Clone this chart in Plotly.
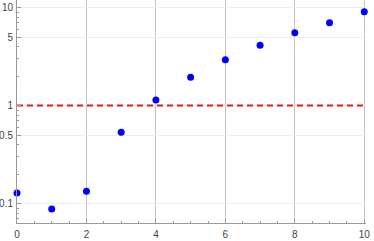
import plotly.graph_objects as go
import math

x_vals = [0, 1, 2, 3, 4, 5, 6, 7, 8, 9, 10]
y_vals = [0.128, 0.088, 0.134, 0.534, 1.14, 1.95, 2.93, 4.13, 5.53, 7.0, 9.06]
ref_x = [0, 10]
ref_y = [1, 1]
x_ticks = [0, 2, 4, 6, 8, 10]
y_ticks = [0.1, 0.5, 1, 5, 10]
y_tick_text = ["0.1", "0.5", "1", "5", "10"]
y_minor = [0.07, 0.08, 0.09, 0.2, 0.3, 0.4, 0.6, 0.7, 0.8, 0.9, 2, 3, 4, 6, 7, 8, 9]

fig = go.Figure()
fig.add_trace(go.Scatter(x=ref_x, y=ref_y, mode="lines",
                         line=dict(color="#e61a1a", width=2, dash="6px,4px"),
                         hoverinfo="skip", cliponaxis=False))
fig.add_trace(go.Scatter(x=x_vals, y=y_vals, mode="markers",
                         marker=dict(color="#0000ff", size=7),
                         cliponaxis=False))

fig.update_layout(
    width=374, height=241,
    margin=dict(l=17, r=8, t=0, b=18, autoexpand=False),
    paper_bgcolor="white", plot_bgcolor="white",
    showlegend=False,
    font=dict(family="Liberation Sans, Arial, sans-serif", size=10, color="#444444"),
)
fig.update_xaxes(
    range=[0, 10.05], tickvals=x_ticks, ticktext=[str(v) for v in x_ticks],
    showgrid=True, gridcolor="#c4c4c4", gridwidth=1,
    showline=True, linecolor="#999999", linewidth=1,
    ticks="inside", ticklen=4, tickcolor="#999999",
    minor=dict(ticks="inside", ticklen=2, tickcolor="#999999", dtick=0.5, tick0=0, showgrid=False),
    zeroline=False, ticklabelstandoff=2, automargin=False,
)
fig.update_yaxes(
    type="log", range=[math.log10(0.0634), 1.077],
    tickvals=y_ticks, ticktext=y_tick_text,
    showgrid=True, gridcolor="#eeeeee", gridwidth=1,
    showline=True, linecolor="#999999", linewidth=1,
    ticks="inside", ticklen=4, tickcolor="#999999",
    minor=dict(ticks="inside", ticklen=2, tickcolor="#999999", tickvals=y_minor, showgrid=False),
    zeroline=False, ticklabelstandoff=1, automargin=False,
)

fig.write_html("out.html", config={"displayModeBar": False},
               post_script="document.body.style.margin='0';document.body.style.overflow='hidden';")
